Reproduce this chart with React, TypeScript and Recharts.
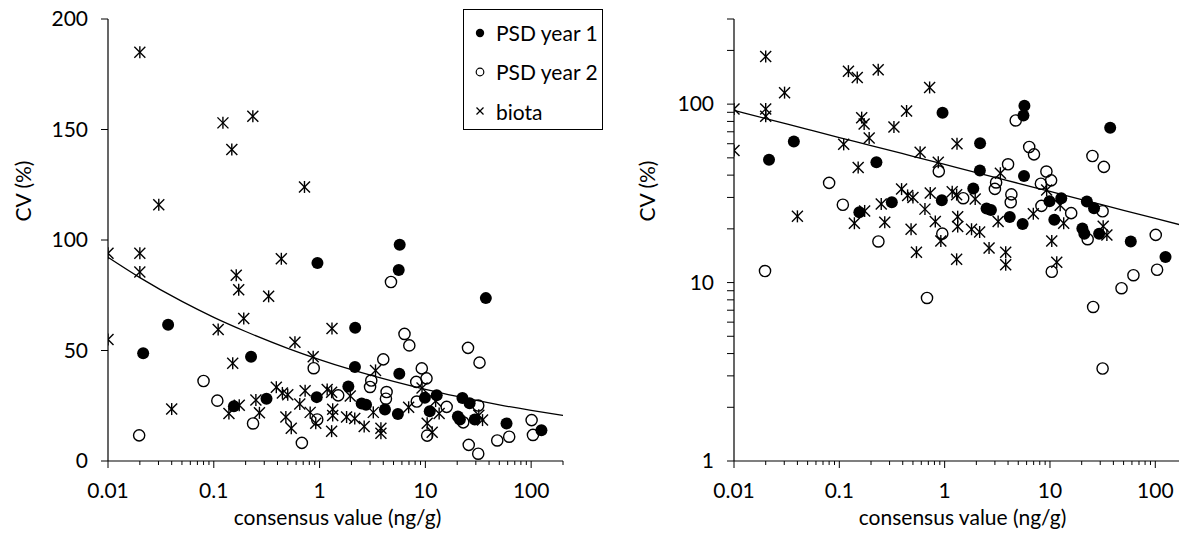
import React from 'react';
import { ScatterChart, Scatter, XAxis, YAxis, Legend } from 'recharts';

const FONT = 'Lato, "Liberation Sans", sans-serif';
const FS = 21;

// [consensus value (ng/g), CV (%)]
const psdYear1: [number, number][] = [
  [0.0215, 48.8], [0.037, 61.7], [0.155, 24.8], [0.225, 47.2], [0.315, 28.2],
  [0.94, 28.9], [0.955, 89.6], [1.87, 33.7], [2.17, 60.3], [2.16, 42.5],
  [2.5, 26], [2.75, 25.5], [4.15, 23.3], [5.5, 21.3], [5.67, 39.5],
  [5.6, 86.4], [5.72, 97.8], [9.9, 28.6], [11.0, 22.5], [12.8, 29.7],
  [22.4, 28.5], [26.2, 26.1], [20.3, 20.1], [21.2, 18.8], [29.3, 18.8],
  [37.3, 73.7], [58.5, 17], [125, 13.9],
];

const psdYear2: [number, number][] = [
  [0.0197, 11.6], [0.08, 36.2], [0.108, 27.3], [0.235, 17], [0.68, 8.2],
  [0.88, 42], [0.95, 18.8], [1.5, 29.7], [3.0, 33.5], [3.08, 36.4],
  [4.0, 46], [4.3, 31.2], [4.24, 28.2], [4.73, 81], [6.35, 57.5],
  [7.05, 52.3], [8.2, 35.8], [8.3, 26.9], [9.25, 41.9], [10.25, 37.4],
  [10.4, 11.5], [15.9, 24.5], [22.8, 17.5], [25.3, 51.2], [25.7, 7.3],
  [31.6, 25.1], [32.5, 44.5], [31.6, 3.3], [47.8, 9.3], [62, 11],
  [101, 18.5], [104, 11.8],
];

const biota: [number, number][] = [
  [0.01, 94], [0.01, 55], [0.02, 185], [0.02, 94], [0.02, 85.5],
  [0.0302, 116], [0.04, 23.5], [0.11, 59.5], [0.122, 153], [0.139, 21.5],
  [0.148, 141], [0.151, 44.2], [0.163, 84], [0.172, 77.5], [0.174, 25.2],
  [0.192, 64.5], [0.234, 156], [0.25, 27.6], [0.27, 21.8], [0.33, 74.5],
  [0.39, 33.4], [0.435, 91.5], [0.445, 30.8], [0.5, 30], [0.48, 19.9],
  [0.54, 14.8], [0.585, 53.7], [0.65, 25.8], [0.72, 124], [0.73, 31.8],
  [0.815, 22], [0.87, 47.2], [0.92, 17.1], [1.18, 32.3], [1.3, 31.1],
  [1.31, 60], [1.3, 13.5], [1.33, 23.4], [1.33, 20.6], [1.95, 29.4],
  [1.8, 19.9], [2.15, 19.2], [2.64, 15.6], [3.22, 22], [3.38, 41],
  [3.8, 14.8], [3.8, 12.6], [6.95, 24.3], [9.3, 33], [10.4, 17.1],
  [11.6, 13], [12.5, 27.1], [13.5, 21.5], [32, 20.7], [34.7, 18.5],
];

// trend line
const trendX = [0.01, 0.02, 0.05, 0.1, 0.2, 0.5, 1, 2, 5, 10, 20, 50, 100, 200];
const trendY = [92.2, 83, 72.2, 65, 58.6, 51, 45.9, 41.3, 36, 32.4, 29.2, 25.4, 22.9, 20.6];

const xTicks = [
  0.01, 0.02, 0.03, 0.04, 0.05, 0.06, 0.07, 0.08, 0.09,
  0.1, 0.2, 0.3, 0.4, 0.5, 0.6, 0.7, 0.8, 0.9,
  1, 2, 3, 4, 5, 6, 7, 8, 9,
  10, 20, 30, 40, 50, 60, 70, 80, 90,
  100, 200,
];
const xMajor = ['0.01', '0.1', '1', '10', '100'];

const yTicksLinear = [0, 50, 100, 150, 200];
const yTicksLog = [
  1, 2, 3, 4, 5, 6, 7, 8, 9,
  10, 20, 30, 40, 50, 60, 70, 80, 90,
  100, 200, 300,
];
const yMajorLog = ['1', '10', '100'];

const legendNames = ['PSD year 1', 'PSD year 2', 'biota'];

const toPts = (arr: [number, number][]) => arr.map(([x, y]) => ({ x, y }));
const trendPts = trendX.map((x, i) => ({ x, y: trendY[i] }));

const FilledDot = (p: any) => <circle cx={p.cx} cy={p.cy} r={6} fill="#000" />;
const OpenDot = (p: any) => (
  <circle cx={p.cx} cy={p.cy} r={5.6} fill="none" stroke="#000" strokeWidth={1.4} />
);
const StarMark = (p: any) => {
  const s = 5.5;
  const { cx, cy } = p;
  return (
    <g stroke="#000" strokeWidth={1.4}>
      <line x1={cx - s} y1={cy - s} x2={cx + s} y2={cy + s} />
      <line x1={cx - s} y1={cy + s} x2={cx + s} y2={cy - s} />
      <line x1={cx} y1={cy - s - 0.5} x2={cx} y2={cy + s + 0.5} />
    </g>
  );
};
const NoMark = () => <g />;

const XTick = (props: any) => {
  const { x, y, payload } = props;
  const label = String(payload.value);
  const major = xMajor.includes(label);
  return (
    <g>
      <line x1={x} x2={x} y1={y} y2={y + (major ? 7 : 4)} stroke="#000" strokeWidth={1} />
      {major && (
        <text x={x} y={y + 37} textAnchor="middle" fontSize={FS} fontFamily={FONT} fill="#000">
          {label}
        </text>
      )}
    </g>
  );
};

const makeYTick = (majors: string[] | null) => (props: any) => {
  const { x, y, payload } = props;
  const label = String(payload.value);
  const major = majors ? majors.includes(label) : true;
  return (
    <g>
      <line x1={x - 7} x2={x} y1={y} y2={y} stroke="#000" strokeWidth={1} />
      {major && (
        <text x={x - 20} y={y + 7} textAnchor="end" fontSize={FS} fontFamily={FONT} fill="#000">
          {label}
        </text>
      )}
    </g>
  );
};
const YTickLin = makeYTick(null);
const YTickLog = makeYTick(yMajorLog);

const LegendIcon = ({ name }: { name: string }) => {
  if (name === 'PSD year 1') return <circle cx={8} cy={8} r={4.2} fill="#000" />;
  if (name === 'PSD year 2')
    return <circle cx={8} cy={8} r={3.8} fill="none" stroke="#000" strokeWidth={1.2} />;
  return (
    <g stroke="#000" strokeWidth={1.3}>
      <line x1={4.5} y1={4.5} x2={11.5} y2={11.5} />
      <line x1={4.5} y1={11.5} x2={11.5} y2={4.5} />
    </g>
  );
};

const LegendBox = () => (
  <div style={{ position: 'relative', width: '100%', height: '100%' }}>
    {legendNames.map((n, i) => (
      <div
        key={n}
        style={{
          position: 'absolute',
          left: 8,
          top: 22.5 + i * 39.3 - 14,
          height: 28,
          display: 'flex',
          alignItems: 'center',
          fontFamily: FONT,
          fontSize: FS,
          color: '#000',
          whiteSpace: 'nowrap',
        }}
      >
        <svg width={16} height={16} style={{ marginRight: 8 }}>
          <LegendIcon name={n} />
        </svg>
        <span>{n}</span>
      </div>
    ))}
  </div>
);

const xTitle = (props: any) => {
  const vb = props.viewBox || { x: 0, y: 0, width: 0, height: 0 };
  return (
    <text
      x={vb.x + vb.width / 2 + 2}
      y={vb.y + 64}
      textAnchor="middle"
      fontSize={FS}
      fontFamily={FONT}
      fill="#000"
    >
      consensus value (ng/g)
    </text>
  );
};

const yTitle = (cx: number) => () => (
  <text
    x={cx}
    y={191}
    transform={`rotate(-90 ${cx} 191)`}
    textAnchor="middle"
    dominantBaseline="central"
    fontSize={FS}
    fontFamily={FONT}
    fill="#000"
  >
    CV (%)
  </text>
);

function Panel({ log }: { log: boolean }) {
  const yW = log ? 134 : 108;
  return (
    <ScatterChart
      width={600}
      height={535}
      margin={{ top: 19, right: log ? 13 : 37, bottom: 0, left: 0 }}
      style={{ fontFamily: FONT }}
    >
      <XAxis
        dataKey="x"
        type="number"
        scale="log"
        domain={[0.01, 200]}
        allowDataOverflow
        ticks={xTicks}
        interval={0}
        tick={<XTick />}
        tickLine={false}
        tickSize={0}
        tickMargin={0}
        height={74}
        axisLine={{ stroke: '#000', strokeWidth: 1.2 }}
        label={xTitle}
      />
      <YAxis
        dataKey="y"
        type="number"
        scale={log ? 'log' : 'linear'}
        domain={log ? [1, 300] : [0, 200]}
        allowDataOverflow
        ticks={log ? yTicksLog : yTicksLinear}
        interval={0}
        tick={log ? <YTickLog /> : <YTickLin />}
        tickLine={false}
        tickSize={0}
        tickMargin={0}
        width={yW}
        axisLine={{ stroke: '#000', strokeWidth: 1.2 }}
        label={yTitle(log ? 46.5 : 22.5)}
      />
      {!log && (
        <Legend
          layout="vertical"
          align="center"
          verticalAlign="middle"
          content={<LegendBox />}
          wrapperStyle={{
            position: 'absolute',
            left: 463,
            top: 9,
            width: 140,
            height: 121,
            border: '1.3px solid #000',
            boxSizing: 'border-box',
            background: '#fff',
          }}
        />
      )}
      <Scatter name="PSD year 1" data={toPts(psdYear1)} shape={FilledDot} isAnimationActive={false} />
      <Scatter name="PSD year 2" data={toPts(psdYear2)} shape={OpenDot} isAnimationActive={false} />
      <Scatter name="biota" data={toPts(biota)} shape={StarMark} isAnimationActive={false} />
      <Scatter
        name="trend"
        data={trendPts}
        shape={NoMark}
        line={{ stroke: '#000', strokeWidth: 1.3 }}
        lineJointType="monotoneX"
        legendType="none"
        isAnimationActive={false}
      />
    </ScatterChart>
  );
}

export default function App() {
  return (
    <div
      style={{
        position: 'absolute',
        left: 0,
        top: 0,
        width: 1179,
        height: 535,
        overflow: 'hidden',
        background: '#fff',
      }}
    >
      <div style={{ position: 'absolute', left: 0, top: 0 }}>
        <Panel log={false} />
      </div>
      <div style={{ position: 'absolute', left: 600, top: 0 }}>
        <Panel log={true} />
      </div>
    </div>
  );
}
